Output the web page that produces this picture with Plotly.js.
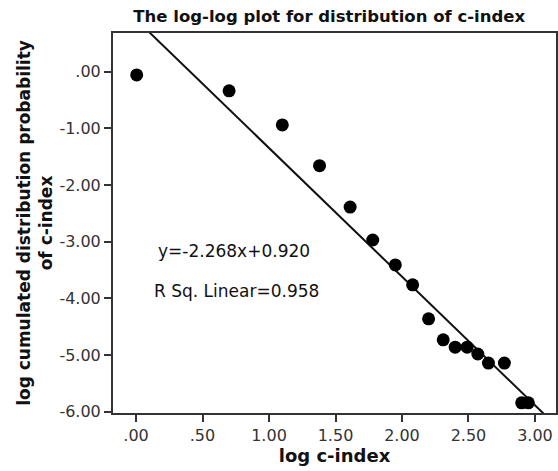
<!DOCTYPE html>
<html>
<head>
<meta charset="utf-8">
<script src="https://cdn.plot.ly/plotly-3.0.1.min.js"></script>
<style>html,body{margin:0;padding:0;background:#fff;}#chart{width:558px;height:471px;}</style>
</head>
<body>
<div id="chart"></div>
<script>
const logC = [0.005, 0.70, 1.10, 1.38, 1.61, 1.78, 1.95, 2.08, 2.20, 2.31, 2.40, 2.49, 2.57, 2.65, 2.77, 2.90, 2.95];
const logP = [-0.06, -0.34, -0.94, -1.66, -2.39, -2.97, -3.41, -3.76, -4.36, -4.73, -4.86, -4.86, -4.98, -5.14, -5.14, -5.84, -5.84];
const slope = -2.268;
const intercept = 0.920;
const fitX = [-0.2, 3.2];
const xTickVals = [0, 0.5, 1, 1.5, 2, 2.5, 3];
const xTickText = ['.00', '.50', '1.00', '1.50', '2.00', '2.50', '3.00'];
const yTickVals = [0, -1, -2, -3, -4, -5, -6];
const yTickText = ['.00', '-1.00', '-2.00', '-3.00', '-4.00', '-5.00', '-6.00'];

const font = 'DejaVu Sans, Verdana, sans-serif';
const traces = [
  {x: fitX, y: fitX.map(v => slope * v + intercept), mode: 'lines', line: {color: '#111', width: 2}, hoverinfo: 'skip'},
  {x: logC, y: logP, mode: 'markers', marker: {color: '#000', size: 13}}
];
const layout = {
  width: 558, height: 471,
  margin: {l: 113, r: 2, t: 33, b: 58},
  showlegend: false,
  paper_bgcolor: '#fff', plot_bgcolor: '#fff',
  font: {family: font, color: '#222'},
  title: {text: '<b>The log-log plot for distribution of c-index</b>', font: {size: 16.5, color: '#111'}, x: 0.59, xanchor: 'center', xref: 'container', y: 0.965, yanchor: 'middle', yref: 'container'},
  xaxis: {
    range: [-0.173, 3.158], tickvals: xTickVals, ticktext: xTickText,
    showline: true, mirror: true, linecolor: '#333', linewidth: 2,
    ticks: 'outside', ticklen: 7, tickwidth: 2, tickcolor: '#333',
    showgrid: false, zeroline: false,
    tickfont: {size: 16, color: '#333'},
    title: {text: '<b>log c-index</b>', font: {size: 18, color: '#111'}, standoff: 0}
  },
  yaxis: {
    range: [-6.02, 0.68], tickvals: yTickVals, ticktext: yTickText,
    showline: true, mirror: true, linecolor: '#333', linewidth: 2,
    ticks: 'outside', ticklen: 7, tickwidth: 2, tickcolor: '#333',
    showgrid: false, zeroline: false,
    tickfont: {size: 16, color: '#333'},
    title: {text: '<b>log cumulated distribution probability<br>of c-index</b>', font: {size: 17, color: '#111'}, standoff: 2}
  },
  annotations: [
    {x: 0.15, y: -3.16, xref: 'x', yref: 'y', text: 'y=-2.268x+0.920', showarrow: false, xanchor: 'left', font: {size: 17, color: '#111', family: font}},
    {x: 0.12, y: -3.87, xref: 'x', yref: 'y', text: 'R Sq. Linear=0.958', showarrow: false, xanchor: 'left', font: {size: 17, color: '#111', family: font}}
  ]
};
Plotly.newPlot('chart', traces, layout, {displayModeBar: false, staticPlot: true});
</script>
</body>
</html>
